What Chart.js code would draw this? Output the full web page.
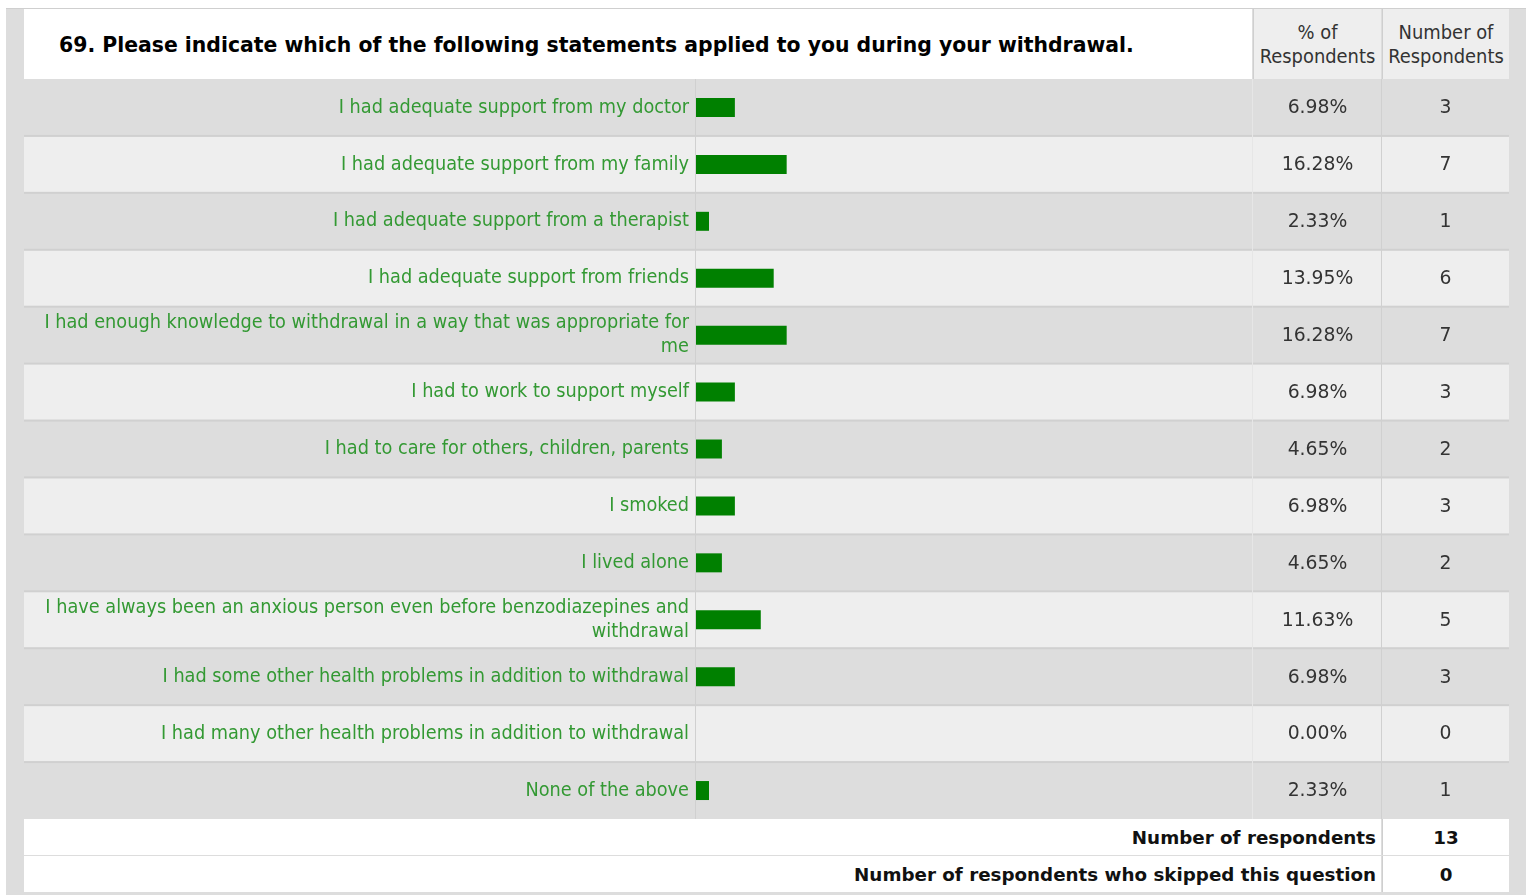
<!DOCTYPE html>
<html>
<head>
<meta charset="utf-8">
<script src="https://cdn.jsdelivr.net/npm/chart.js@4"></script>
<style>
  body { margin: 0; background: #fff; width: 1526px; height: 895px; overflow: hidden; position: relative; font-family: 'DejaVu Sans Condensed', 'DejaVu Sans', sans-serif; }
  #frame { position: absolute; left: 6px; top: 8px; width: 1520px; height: 887px; background: #dddddd; border-top: 1px solid #cfcfcf; }
  .cell { position: absolute; box-sizing: border-box; }
  #title { left: 24px; top: 9px; width: 1228px; height: 70px; background: #fff; font-family: 'DejaVu Sans', sans-serif; font-weight: bold; font-size: 20.4px; color: #000; padding-left: 35px; line-height: 72px; white-space: nowrap; }
  .head { top: 9px; height: 70px; background: #eeeeee; color: #333; font-size: 19.9px; text-align: center; line-height: 24px; padding-top: 12px; }
  #h1 { left: 1253px; width: 128px; border-left: 1px solid #cfcfcf; }
  #h2 { left: 1382px; width: 127px; border-left: 1px solid #cfcfcf; }
  #chartBox { position: absolute; left: 24px; top: 79px; }
  .foot { height: 36px; background: #fff; color: #111; font-family: 'DejaVu Sans', sans-serif; font-weight: bold; font-size: 18.3px; line-height: 38px; }
  .fl { left: 24px; width: 1357px; text-align: right; padding-right: 5px; }
  .fv { left: 1382px; width: 127px; text-align: center; border-left: 1px solid #cfcfcf; }
</style>
</head>
<body>
<div id="frame"></div>
<div class="cell" id="title"></div>
<div class="cell head" id="h1">% of<br>Respondents</div>
<div class="cell head" id="h2">Number of<br>Respondents</div>
<div id="chartBox"><canvas id="chart" width="1485" height="740"></canvas></div>
<div class="cell foot fl" style="top:819px;">Number of respondents</div>
<div class="cell foot fv" style="top:819px;" id="total"></div>
<div class="cell foot fl" style="top:856px;">Number of respondents who skipped this question</div>
<div class="cell foot fv" style="top:856px;" id="skipped"></div>
<script>
const question = "69. Please indicate which of the following statements applied to you during your withdrawal.";
const categories = [
    "I had adequate support from my doctor",
    "I had adequate support from my family",
    "I had adequate support from a therapist",
    "I had adequate support from friends",
    ["I had enough knowledge to withdrawal in a way that was appropriate for", "me"],
    "I had to work to support myself",
    "I had to care for others, children, parents",
    "I smoked",
    "I lived alone",
    ["I have always been an anxious person even before benzodiazepines and", "withdrawal"],
    "I had some other health problems in addition to withdrawal",
    "I had many other health problems in addition to withdrawal",
    "None of the above"
];
const percents = [6.98, 16.28, 2.33, 13.95, 16.28, 6.98, 4.65, 6.98, 4.65, 11.63, 6.98, 0.00, 2.33];
const counts = [3, 7, 1, 6, 7, 3, 2, 3, 2, 5, 3, 0, 1];
const totalRespondents = 13;
const skippedRespondents = 0;

document.addEventListener("DOMContentLoaded", () => {
    document.getElementById("title").innerText = question;
    document.getElementById("total").innerText = totalRespondents;
    document.getElementById("skipped").innerText = skippedRespondents;

    const labelFont = "'DejaVu Sans Condensed', 'DejaVu Sans', sans-serif";
    const numFont = "'DejaVu Sans', sans-serif";
    const labelCol = 672;   // width of the statement column
    const pctColX = 1229;   // start of "% of Respondents" column (canvas coords)
    const numColX = 1358;   // start of "Number of Respondents" column
    const tableRight = 1485;

    // row stripes, grid lines and the two number columns
    const tablePlugin = {
        id: "tableRows",
        beforeDraw(chart) {
            const ctx = chart.ctx;
            const y = chart.scales.y;
            const band = (y.bottom - y.top) / categories.length;
            ctx.save();
            categories.forEach((c, i) => {
                const mid = y.getPixelForValue(i);
                ctx.fillStyle = i % 2 === 0 ? "#dddddd" : "#eeeeee";
                ctx.fillRect(0, mid - band / 2, tableRight, band);
                if(i > 0){
                    ctx.fillStyle = "#d0d0d0";
                    ctx.fillRect(0, mid - band / 2 - 1, tableRight, 2);
                }
            });
            ctx.fillStyle = "#d0d0d0";
            ctx.fillRect(labelCol - 1, y.top, 1, y.bottom - y.top);
            ctx.fillRect(numColX - 1, y.top, 1, y.bottom - y.top);
            ctx.fillStyle = "#e6e6e6";
            ctx.fillRect(pctColX - 1, y.top, 1, y.bottom - y.top);
            ctx.restore();
        },
        afterDraw(chart) {
            const ctx = chart.ctx;
            const y = chart.scales.y;
            ctx.save();
            ctx.font = "18.8px " + numFont;
            ctx.fillStyle = "#333333";
            ctx.textAlign = "center";
            ctx.textBaseline = "middle";
            categories.forEach((c, i) => {
                const mid = y.getPixelForValue(i);
                ctx.fillText(percents[i].toFixed(2) + "%", (pctColX + numColX) / 2, mid + 1);
                ctx.fillText(String(counts[i]), (numColX + tableRight) / 2, mid + 1);
            });
            ctx.restore();
        }
    };

    new Chart(document.getElementById("chart"), {
        type: "bar",
        data: {
            labels: categories,
            datasets: [{
                data: percents,
                backgroundColor: "#008000",
                barThickness: 19,
                inflateAmount: 0
            }]
        },
        options: {
            indexAxis: "y",
            responsive: false,
            animation: false,
            devicePixelRatio: 1,
            layout: { padding: { left: 0, right: tableRight - pctColX, top: 0, bottom: 0 } },
            plugins: { legend: { display: false }, tooltip: { enabled: false } },
            scales: {
                x: { min: 0, max: 100, display: false },
                y: {
                    grid: { display: false, drawTicks: false },
                    border: { display: false },
                    ticks: {
                        color: "#339933",
                        padding: 7,
                        font: { family: labelFont, size: 19.7, lineHeight: 1.22 }
                    },
                    afterFit: (scale) => {
                        scale.width = labelCol;
                        scale.paddingTop = 0;
                        scale.paddingBottom = 0;
                    }
                }
            }
        },
        plugins: [tablePlugin]
    });
});
</script>
</body>
</html>
